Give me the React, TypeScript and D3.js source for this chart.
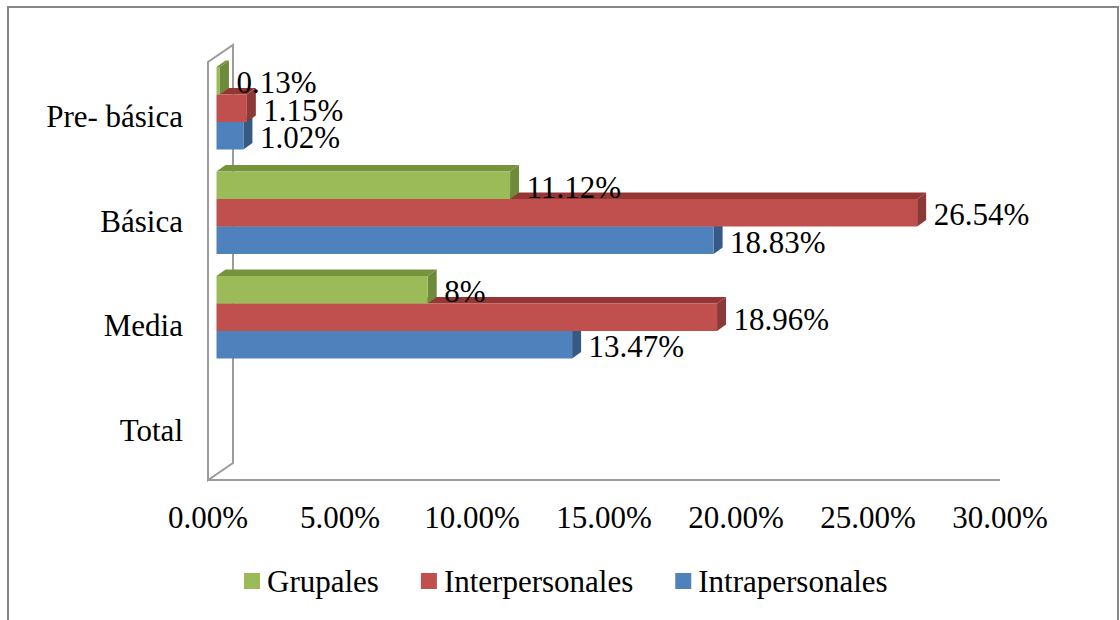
import * as d3 from 'd3';
import { useEffect, useRef } from 'react';

// categories top to bottom
const categories = ['Pre- básica', 'Básica', 'Media', 'Total'];
const seriesNames = ['Grupales', 'Interpersonales', 'Intrapersonales'];

const grupales = [0.0013, 0.1112, 0.08, null];
const interpersonales = [0.0115, 0.2654, 0.1896, null];
const intrapersonales = [0.0102, 0.1883, 0.1347, null];

const grupalesLabels = ['0.13%', '11.12%', '8%', ''];
const interpersonalesLabels = ['1.15%', '26.54%', '18.96%', ''];
const intrapersonalesLabels = ['1.02%', '18.83%', '13.47%', ''];

const xTicks = [0, 0.05, 0.1, 0.15, 0.2, 0.25, 0.3];

const FONT = "'Liberation Serif', 'Times New Roman', serif";
const FS = 31;

const colors = [
  { front: '#9BBB59', top: '#77933C', side: '#6F8A3A' },
  { front: '#C0504D', top: '#943634', side: '#8C3A38' },
  { front: '#4F81BD', top: '#3A5F8C', side: '#365A86' },
];

function textWidth(txt: string) {
  const ctx = document.createElement('canvas').getContext('2d');
  if (!ctx) return txt.length * FS * 0.45;
  ctx.font = `${FS}px ${FONT}`;
  return ctx.measureText(txt).width;
}

export default function App() {
  const svgRef = useRef<SVGSVGElement>(null);

  useEffect(() => {
    if (!svgRef.current) return;
    const svg = d3.select(svgRef.current);
    svg.selectAll('*').remove();

    const W = 1120;
    const H = 620;
    const plot = { left: 208, right: 1000, top: 62, bottom: 480 };
    const wallDepth = { dx: 25, dy: -17 };
    const barOff = { dx: 8.5, dy: -6 };
    const barDepth = { dx: 9, dy: -6.5 };

    const series = [
      { name: seriesNames[0], values: grupales, labels: grupalesLabels, c: colors[0] },
      { name: seriesNames[1], values: interpersonales, labels: interpersonalesLabels, c: colors[1] },
      { name: seriesNames[2], values: intrapersonales, labels: intrapersonalesLabels, c: colors[2] },
    ];

    const x = d3.scaleLinear().domain([0, 0.3]).range([plot.left, plot.right]);
    const y = d3.scaleBand<string>().domain(categories).range([plot.top, plot.bottom]).padding(0);
    const yInner = d3
      .scaleBand<string>()
      .domain(seriesNames)
      .range([0, y.bandwidth()])
      .paddingInner(0)
      .paddingOuter(0.4);

    // Outer chart border
    svg
      .append('rect')
      .attr('x', 8)
      .attr('y', 7)
      .attr('width', 1110)
      .attr('height', 660)
      .attr('fill', 'white')
      .attr('stroke', '#868686')
      .attr('stroke-width', 2);

    // Side wall
    const wall = svg.append('g').attr('fill', 'none').attr('stroke', '#9C9C9C').attr('stroke-width', 2);
    wall
      .append('path')
      .attr(
        'd',
        `M${plot.left},${plot.bottom}L${plot.left},${plot.top}L${plot.left + wallDepth.dx},${plot.top + wallDepth.dy}` +
          `L${plot.left + wallDepth.dx},${plot.bottom + wallDepth.dy}Z`,
      )
      .attr('fill', 'white');
    // floor edge / x axis line
    wall
      .append('line')
      .attr('x1', plot.left)
      .attr('x2', plot.right)
      .attr('y1', plot.bottom)
      .attr('y2', plot.bottom);

    // Bars, drawn bottom series first so upper bars hide the top faces below
    const barsG = svg.append('g');
    categories.forEach((cat, ci) => {
      [...series].reverse().forEach((s) => {
        const v = s.values[ci];
        if (v == null) return;
        const x0 = x(0) + barOff.dx;
        const x1 = x(v) + barOff.dx;
        const y0 = (y(cat) as number) + (yInner(s.name) as number) + barOff.dy;
        const y1 = y0 + yInner.bandwidth();
        const { dx, dy } = barDepth;
        // top face
        barsG
          .append('path')
          .attr('d', `M${x0},${y0}L${x0 + dx},${y0 + dy}L${x1 + dx},${y0 + dy}L${x1},${y0}Z`)
          .attr('fill', s.c.top);
        // side face
        barsG
          .append('path')
          .attr('d', `M${x1},${y0}L${x1 + dx},${y0 + dy}L${x1 + dx},${y1 + dy}L${x1},${y1}Z`)
          .attr('fill', s.c.side);
        // front face
        barsG
          .append('rect')
          .attr('x', x0)
          .attr('y', y0)
          .attr('width', Math.max(0, x1 - x0))
          .attr('height', y1 - y0)
          .attr('fill', s.c.front);
      });
    });

    // Data labels
    const labelsG = svg.append('g').style('font-family', FONT).style('font-size', `${FS}px`).attr('fill', '#000');
    categories.forEach((cat, ci) => {
      series.forEach((s) => {
        const v = s.values[ci];
        if (v == null) return;
        const yc = (y(cat) as number) + (yInner(s.name) as number) + barOff.dy + yInner.bandwidth() / 2;
        labelsG
          .append('text')
          .attr('x', x(v) + barOff.dx + barDepth.dx + 7.5)
          .attr('y', yc + 12.5)
          .text(s.labels[ci]);
      });
    });

    // Category labels
    const catG = svg.append('g').style('font-family', FONT).style('font-size', `${FS}px`).attr('fill', '#000');
    categories.forEach((cat) => {
      catG
        .append('text')
        .attr('x', 183)
        .attr('y', (y(cat) as number) + y.bandwidth() / 2 + 13)
        .attr('text-anchor', 'end')
        .text(cat);
    });

    // X tick labels
    const fmt = d3.format('.2%');
    const tickG = svg.append('g').style('font-family', FONT).style('font-size', `${FS}px`).attr('fill', '#000');
    xTicks.forEach((t) => {
      tickG
        .append('text')
        .attr('x', x(t))
        .attr('y', plot.bottom + 48)
        .attr('text-anchor', 'middle')
        .text(fmt(t));
    });

    // Legend
    const legendG = svg.append('g').style('font-family', FONT).style('font-size', `${FS}px`).attr('fill', '#000');
    let lx = 244;
    const ly = 573;
    series.forEach((s) => {
      legendG.append('rect').attr('x', lx).attr('y', ly).attr('width', 16).attr('height', 16).attr('fill', s.c.front);
      legendG
        .append('text')
        .attr('x', lx + 23)
        .attr('y', ly + 19)
        .text(s.name);
      lx += 23 + textWidth(s.name) + 42;
    });

    svg.attr('width', W).attr('height', H);
  }, []);

  return (
    <svg
      ref={svgRef}
      width={1120}
      height={620}
      style={{ position: 'absolute', left: 0, top: 0, background: 'white' }}
    />
  );
}
